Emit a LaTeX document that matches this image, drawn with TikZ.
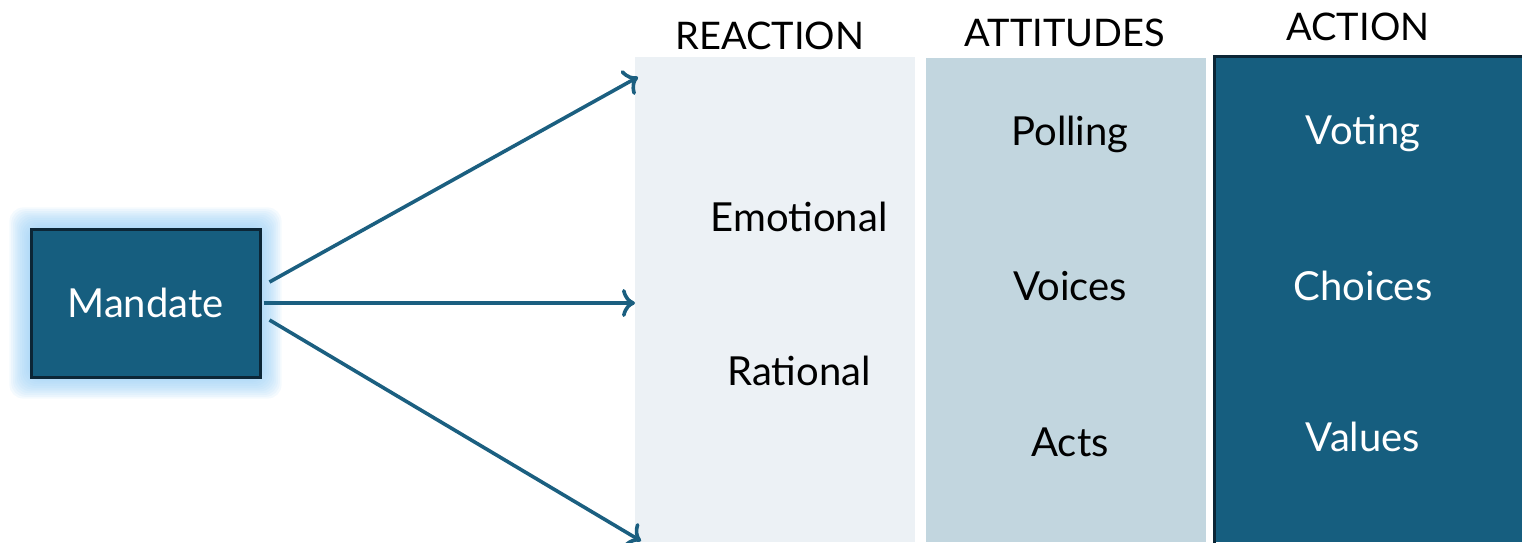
\documentclass[tikz,border=0pt]{standalone}
\usepackage{fontspec}
\setmainfont{Lato}
\usetikzlibrary{arrows.meta}
\definecolor{dblue}{RGB}{22,94,127}
\definecolor{dborder}{RGB}{12,38,54}
\definecolor{lcol}{RGB}{236,241,245}
\definecolor{mcol}{RGB}{194,214,223}
\definecolor{glowc}{RGB}{150,205,245}
\definecolor{arr}{RGB}{27,95,128}
\tikzset{
  bodytxt/.style={font=\fontsize{40}{44}\selectfont,inner sep=0pt},
  headtxt/.style={font=\fontsize{38}{42}\selectfont,inner sep=0pt},
  conn/.style={draw=arr,line width=3.6pt,-{To[length=13pt,width=28pt,line width=3.6pt]}}
}
\begin{document}
\begin{tikzpicture}[x=1pt,y=-1pt]
\useasboundingbox (0,0) rectangle (1522,542);
% glow
\foreach \i in {1,...,12}{
  \fill[glowc,opacity=0.1,rounded corners=14pt] (31-1.8*\i,229-1.8*\i) rectangle (260+1.8*\i,377+1.8*\i);
}
% columns
\fill[lcol] (635,57) rectangle (915,542);
\fill[mcol] (926,58) rectangle (1206,542);
\fill[dblue] (1213,55) rectangle (1522,542);
\draw[dborder,line width=3pt] (1214.5,545) -- (1214.5,56.5) -- (1525,56.5);
\coordinate (ra) at (638,77);
\coordinate (rb) at (635,303);
\coordinate (rc) at (641,541);
% mandate
\node[draw=dborder,line width=3pt,fill=dblue,minimum width=229pt,minimum height=148pt,inner sep=0pt,text=white,font=\fontsize{40}{44}\selectfont] (m) at (145.5,303) {Mandate};
% headings
\node[headtxt] (h1) at (770,36) {REACTION};
\node[headtxt] (h2) at (1065,33) {ATTITUDES};
\node[headtxt] (h3) at (1358,27) {ACTION};
% texts
\node[bodytxt] (e) at (799,217) {Emotional};
\node[bodytxt] (r) at (799,371) {Rational};
\node[bodytxt] (p) at (1070,134) {Polling};
\node[bodytxt] (v) at (1070,286) {Voices};
\node[bodytxt] (a) at (1070,442) {Acts};
\node[bodytxt,text=white] (vo) at (1363,133) {Voting};
\node[bodytxt,text=white] (c) at (1363,286) {Choices};
\node[bodytxt,text=white] (va) at (1363,437) {Values};
% arrows
\draw[conn] ([shift={(8,-21)}]m.east) -- (ra);
\draw[conn] ([shift={(2,0)}]m.east) -- (rb);
\draw[conn] ([shift={(8,17)}]m.east) -- (rc);
\end{tikzpicture}
\end{document}
